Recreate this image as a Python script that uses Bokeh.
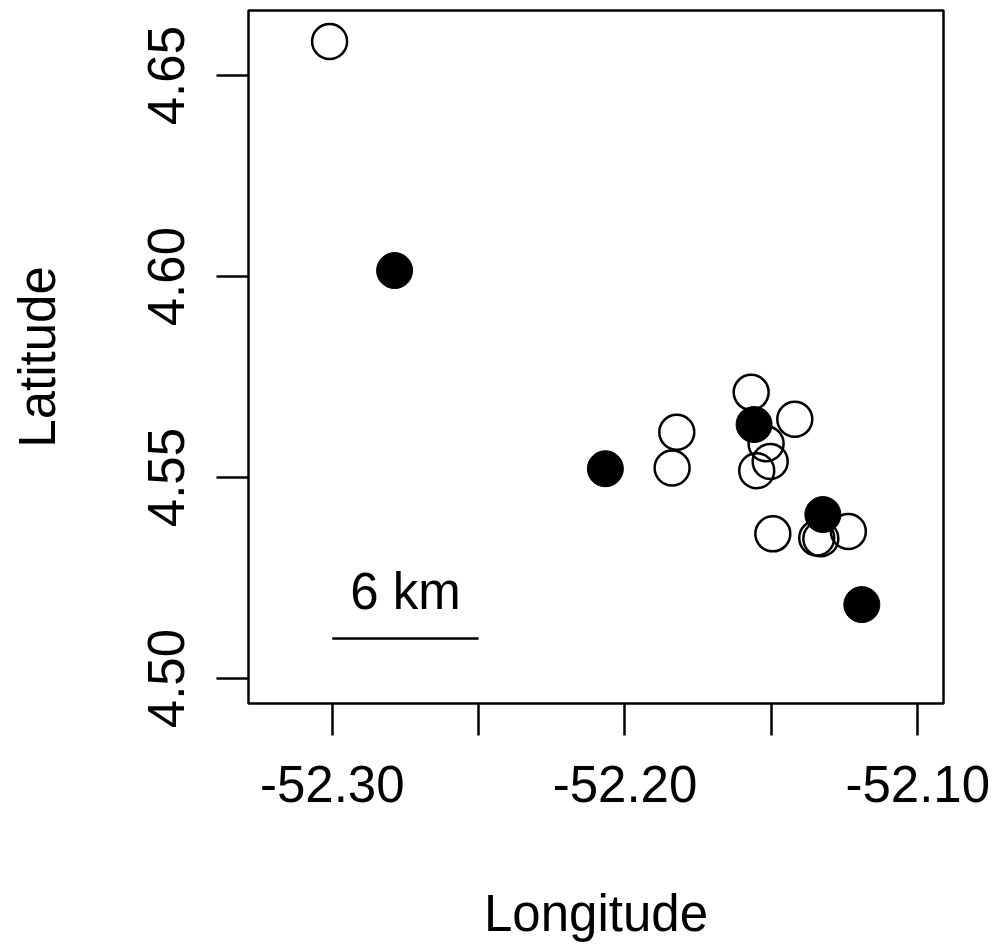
from bokeh.plotting import figure
from bokeh.models import Range1d, FixedTicker, LinearAxis, PrintfTickFormatter
from bokeh.core.properties import value
from bokeh.embed import file_html
from bokeh.resources import INLINE

# Open circles
open_lon = [-52.3009, -52.1823, -52.1839, -52.1569, -52.1518, -52.1420,
            -52.1504, -52.1550, -52.1495, -52.1237, -52.1345, -52.1331]
open_lat = [4.6585, 4.5613, 4.5524, 4.5712, 4.5584, 4.5645,
            4.5540, 4.5517, 4.5360, 4.5366, 4.5350, 4.5348]

# Filled circles
filled_lon = [-52.2787, -52.2067, -52.1559, -52.1324, -52.1191]
filled_lat = [4.6015, 4.5522, 4.5632, 4.5408, 4.5184]

# Scale bar
scalebar_lon = [-52.30, -52.25]
scalebar_lat = [4.51, 4.51]
scale_label = ["6 km"]

x_major = [-52.30, -52.20, -52.10]
x_minor = [-52.25, -52.15]
y_major = [4.50, 4.55, 4.60, 4.65]

FONT = "Liberation Sans"
FS = "51px"

p = figure(width=995, height=952, output_backend="svg", toolbar_location=None,
           x_range=Range1d(-52.3286, -52.0912), y_range=Range1d(4.4938, 4.6662),
           x_axis_location=None, y_axis_location=None,
           min_border_left=248, min_border_right=52, min_border_top=10,
           min_border_bottom=249)
p.background_fill_color = "white"
p.border_fill_color = "white"
p.outline_line_color = "black"
p.outline_line_width = 2.5
p.xgrid.visible = False
p.ygrid.visible = False

xaxis = LinearAxis(ticker=FixedTicker(ticks=x_major, minor_ticks=x_minor),
                   axis_label="Longitude",
                   formatter=PrintfTickFormatter(format="%.2f"))
yaxis = LinearAxis(ticker=FixedTicker(ticks=y_major), axis_label="Latitude",
                   formatter=PrintfTickFormatter(format="%.2f"))
for ax in (xaxis, yaxis):
    ax.axis_line_color = None
    ax.major_tick_line_color = "black"
    ax.major_tick_line_width = 2.5
    ax.minor_tick_line_color = "black"
    ax.minor_tick_line_width = 2.5
    ax.major_tick_in = 0
    ax.major_tick_out = 32
    ax.minor_tick_in = 0
    ax.minor_tick_out = 32
    ax.major_label_text_font = FONT
    ax.major_label_text_font_size = FS
    ax.major_label_text_color = "black"
    ax.axis_label_text_font = FONT
    ax.axis_label_text_font_size = FS
    ax.axis_label_text_font_style = "normal"
    ax.axis_label_text_color = "black"
xaxis.major_label_standoff = 30
xaxis.axis_label_standoff = 80
yaxis.major_label_orientation = "vertical"
yaxis.major_label_standoff = 32
yaxis.axis_label_standoff = 80
p.add_layout(xaxis, "below")
p.add_layout(yaxis, "left")

p.scatter(open_lon, open_lat, size=35, marker="circle", fill_color=None,
          line_color="black", line_width=2.5)
p.scatter(filled_lon, filled_lat, size=36, marker="circle", fill_color="black",
          line_color="black", line_width=1)

p.line(scalebar_lon, scalebar_lat, line_color="black", line_width=2.5)
p.text(x=[sum(scalebar_lon) / 2], y=[scalebar_lat[0]], text=scale_label,
       text_font=value(FONT), text_font_size=FS, text_align="center",
       text_baseline="bottom", y_offset=-18, text_color="black")

open("out.html", "w").write(file_html(p, INLINE))
